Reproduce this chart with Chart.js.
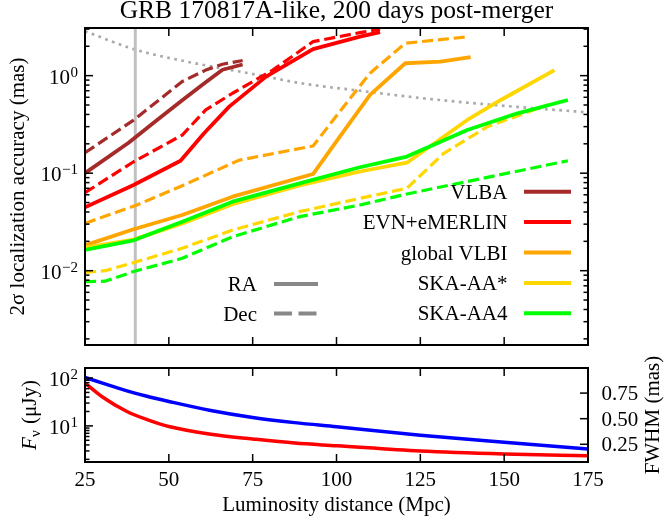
<!DOCTYPE html>
<html>
<head>
<meta charset="utf-8">
<script src="https://cdn.jsdelivr.net/npm/chart.js@4.4.1/dist/chart.umd.min.js"></script>
<style>
  html, body { margin: 0; padding: 0; background: #fff; }
  #wrap { position: relative; width: 665px; height: 525px; }
  #topChart { position: absolute; left: 0; top: 0; }
  #bottomChart { position: absolute; left: 0; top: 350px; }
</style>
</head>
<body>
<div id="wrap">
  <canvas id="topChart" width="665" height="350"></canvas>
  <canvas id="bottomChart" width="665" height="175"></canvas>
</div>
<script>
const SERIF = '"Liberation Serif", "Times New Roman", "DejaVu Serif", serif';

// shared x axis (luminosity distance, Mpc)
const distMin = 25, distMax = 175;
const distTicks = [25, 50, 75, 100, 125, 150, 175];

// top panel: 2 sigma localization accuracy (mas)
const accMin = 0.00173, accMax = 3.08;
const arrayNames = ['VLBA', 'EVN+eMERLIN', 'global VLBI', 'SKA-AA*', 'SKA-AA4'];
const arrayColors = ['#a52a2a', '#ff0000', '#ffa500', '#ffd700', '#00ff00'];

const vlbaRaDist = [25, 38, 46.5, 54, 60.5, 66, 72];
const vlbaRa = [0.100, 0.205, 0.35, 0.56, 0.83, 1.15, 1.30];
const vlbaDecDist = [25, 39.5, 54, 61, 66, 72];
const vlbaDec = [0.162, 0.35, 0.87, 1.14, 1.31, 1.43];

const evnRaDist = [25, 39.5, 53.5, 60.5, 68, 79, 93, 107, 113];
const evnRa = [0.0447, 0.0757, 0.134, 0.257, 0.481, 0.977, 1.87, 2.51, 2.79];
const evnDecDist = [25, 39.5, 54, 61, 69, 81, 93, 107, 113];
const evnDec = [0.063, 0.131, 0.246, 0.445, 0.66, 1.14, 2.23, 2.76, 2.99];

const globalRaDist = [25, 39.5, 54, 69, 93, 101, 110, 120.5, 131, 140];
const globalRa = [0.0182, 0.0266, 0.0372, 0.0574, 0.098, 0.237, 0.634, 1.34, 1.39, 1.55];
const globalDecDist = [25, 40.5, 54.5, 71, 93, 102, 110, 120.5, 139.5];
const globalDec = [0.0306, 0.0472, 0.0757, 0.136, 0.19, 0.474, 1.06, 2.15, 2.51];

const aaStarRaDist = [25, 39.5, 54, 69, 89, 107, 121, 139, 149, 165];
const aaStarRa = [0.0172, 0.0208, 0.0305, 0.048, 0.075, 0.104, 0.128, 0.351, 0.563, 1.14];
const aaStarDecDist = [25, 31, 39.5, 54, 69, 89, 107, 121, 132, 145, 163];
const aaStarDec = [0.0096, 0.0100, 0.0121, 0.017, 0.0261, 0.0403, 0.0552, 0.070, 0.160, 0.300, 0.50];

const aa4RaDist = [25, 39.5, 54, 69, 89, 107, 121, 139, 154, 169];
const aa4Ra = [0.0163, 0.0205, 0.0318, 0.051, 0.0787, 0.115, 0.148, 0.277, 0.411, 0.563];
const aa4DecDist = [25, 31, 39.5, 54, 69, 89, 107, 121, 169];
const aa4Dec = [0.0077, 0.0078, 0.0098, 0.0134, 0.0223, 0.0358, 0.0472, 0.0612, 0.134];

// grey dotted reference curve and vertical marker
const beamDist = [25, 40, 55, 75, 90, 107, 125, 150, 175];
const beamSize = [2.85, 1.85, 1.40, 1.04, 0.83, 0.70, 0.59, 0.49, 0.42];
const markDist = 40;

// bottom panel: flux density (left, log) and FWHM (right, linear)
const curveDist = [25, 30, 37.5, 43.75, 50, 62.5, 75, 87.5, 100, 125, 150, 175];
const fluxDensity = [103, 79, 54, 41, 32.4, 21, 15, 11.7, 9.6, 6.4, 4.55, 3.3];
const fwhm = [0.848, 0.717, 0.570, 0.488, 0.423, 0.348, 0.302, 0.262, 0.236, 0.184, 0.155, 0.138];
const fluxMin = 1.76, fluxMax = 162;
const fwhmMin = 0.077, fwhmMax = 0.995;
const fwhmTicks = [0.25, 0.50, 0.75];

const raDists = [vlbaRaDist, evnRaDist, globalRaDist, aaStarRaDist, aa4RaDist];
const raVals = [vlbaRa, evnRa, globalRa, aaStarRa, aa4Ra];
const decDists = [vlbaDecDist, evnDecDist, globalDecDist, aaStarDecDist, aa4DecDist];
const decVals = [vlbaDec, evnDec, globalDec, aaStarDec, aa4Dec];

const DASH = [11.1, 4.8];
const LEGEND_DASH = [18, 6.5];

function pts(xs, ys) {
  return xs.map((x, i) => ({ x: x, y: ys[i] }));
}

function seg(ctx, x1, y1, x2, y2) {
  ctx.beginPath();
  ctx.moveTo(x1, y1);
  ctx.lineTo(x2, y2);
  ctx.stroke();
}

function logTicks(min, max) {
  const out = [];
  for (let e = Math.floor(Math.log10(min)); e <= Math.ceil(Math.log10(max)); e++) {
    for (let m = 1; m <= 9; m++) {
      const v = m * Math.pow(10, e);
      if (v >= min && v <= max) out.push({ v: v, major: m === 1, exp: e });
    }
  }
  return out;
}

// "10" with a superscript exponent, right aligned at xRight
function drawPow(ctx, exp, xRight, yTick) {
  const sup = exp < 0 ? '\u2212' + (-exp) : String(exp);
  ctx.textAlign = 'right';
  ctx.textBaseline = 'alphabetic';
  ctx.font = '15px ' + SERIF;
  const w = ctx.measureText(sup).width;
  ctx.fillText(sup, xRight, yTick + 1);
  ctx.font = '21px ' + SERIF;
  ctx.fillText('10', xRight - w - 0.5, yTick + 8);
}

function drawFrameAndXTicks(chart) {
  const ctx = chart.ctx, a = chart.chartArea, xs = chart.scales.x;
  ctx.strokeStyle = '#000';
  ctx.lineWidth = 1.5;
  distTicks.forEach(v => {
    const px = xs.getPixelForValue(v);
    seg(ctx, px, a.bottom, px, a.bottom - 8);
    seg(ctx, px, a.top, px, a.top + 8);
  });
  ctx.lineWidth = 2;
  ctx.strokeRect(a.left, a.top, a.right - a.left, a.bottom - a.top);
}

const topDecor = {
  id: 'topDecor',
  afterDraw(chart) {
    const ctx = chart.ctx, a = chart.chartArea, ys = chart.scales.y;
    ctx.save();
    drawFrameAndXTicks(chart);

    ctx.lineWidth = 1.5;
    logTicks(accMin, accMax).forEach(t => {
      const py = ys.getPixelForValue(t.v);
      const len = t.major ? 8 : 4.5;
      seg(ctx, a.left, py, a.left + len, py);
      seg(ctx, a.right, py, a.right - len, py);
      if (t.major) drawPow(ctx, t.exp, a.left - 7, py);
    });

    ctx.fillStyle = '#000';
    ctx.font = '25.5px ' + SERIF;
    ctx.textAlign = 'center';
    ctx.textBaseline = 'alphabetic';
    ctx.fillText('GRB 170817A-like, 200 days post-merger', (a.left + a.right) / 2, 18);

    ctx.save();
    ctx.translate(24, (a.top + a.bottom) / 2);
    ctx.rotate(-Math.PI / 2);
    ctx.font = '21px ' + SERIF;
    ctx.fillText('2\u03c3 localization accuracy (mas)', 0, 0);
    ctx.restore();

    // array legend
    ctx.font = '21px ' + SERIF;
    ctx.textAlign = 'right';
    ctx.lineWidth = 4;
    ctx.lineCap = 'butt';
    arrayNames.forEach((name, i) => {
      const y = 191.7 + i * 30.4;
      ctx.fillStyle = '#000';
      ctx.fillText(name, 507.5, y + 7);
      ctx.strokeStyle = arrayColors[i];
      seg(ctx, 524, y, 571, y);
    });

    // RA / Dec legend
    ['RA', 'Dec'].forEach((name, i) => {
      const y = 284 + i * 29.5;
      ctx.fillStyle = '#000';
      ctx.fillText(name, 257, y + 7);
      ctx.strokeStyle = '#888888';
      ctx.setLineDash(i === 0 ? [] : LEGEND_DASH);
      seg(ctx, 274, y, 318, y);
    });
    ctx.setLineDash([]);
    ctx.restore();
  }
};

const bottomDecor = {
  id: 'bottomDecor',
  afterDraw(chart) {
    const ctx = chart.ctx, a = chart.chartArea, ys = chart.scales.y, y2 = chart.scales.y2, xs = chart.scales.x;
    ctx.save();
    drawFrameAndXTicks(chart);

    ctx.lineWidth = 1.5;
    logTicks(fluxMin, fluxMax).forEach(t => {
      const py = ys.getPixelForValue(t.v);
      seg(ctx, a.left, py, a.left + (t.major ? 8 : 4.5), py);
      if (t.major) drawPow(ctx, t.exp, a.left - 7, py);
    });

    ctx.fillStyle = '#000';
    ctx.font = '21px ' + SERIF;
    ctx.textBaseline = 'alphabetic';
    fwhmTicks.forEach(v => {
      const py = y2.getPixelForValue(v);
      seg(ctx, a.right, py, a.right - 8, py);
      ctx.textAlign = 'left';
      ctx.fillText(v.toFixed(2), a.right + 13.5, py + 7);
    });

    ctx.textAlign = 'center';
    distTicks.forEach(v => {
      ctx.fillText(String(v), xs.getPixelForValue(v), a.bottom + 23.7);
    });
    ctx.fillText('Luminosity distance (Mpc)', (a.left + a.right) / 2, 161);

    // left title: F_nu (uJy)
    ctx.save();
    ctx.translate(35.5, (a.top + a.bottom) / 2);
    ctx.rotate(-Math.PI / 2);
    ctx.textAlign = 'left';
    ctx.font = 'italic 21px ' + SERIF;
    const wF = ctx.measureText('F').width;
    ctx.font = '15px ' + SERIF;
    const wNu = ctx.measureText('\u03bd').width;
    ctx.font = '21px ' + SERIF;
    const wRest = ctx.measureText(' (\u03bcJy)').width;
    const x0 = -(wF + wNu + 1 + wRest) / 2;
    ctx.font = 'italic 21px ' + SERIF;
    ctx.fillText('F', x0, 0);
    ctx.font = '15px ' + SERIF;
    ctx.fillText('\u03bd', x0 + wF, 4);
    ctx.font = '21px ' + SERIF;
    ctx.fillText(' (\u03bcJy)', x0 + wF + wNu + 1, 0);
    ctx.restore();

    // right title
    ctx.save();
    ctx.translate(659, (a.top + a.bottom) / 2);
    ctx.rotate(-Math.PI / 2);
    ctx.textAlign = 'center';
    ctx.font = '21px ' + SERIF;
    ctx.fillText('FWHM (mas)', 0, 0);
    ctx.restore();

    ctx.restore();
  }
};

// top panel datasets
const topDatasets = [];
topDatasets.push({
  data: pts(beamDist, beamSize),
  borderColor: '#aaaaaa', borderWidth: 2.7, borderDash: [2.7, 4.5],
  cubicInterpolationMode: 'monotone'
});
topDatasets.push({
  data: pts([markDist, markDist], [accMin, accMax]),
  borderColor: '#c0c0c0', borderWidth: 3
});
arrayNames.forEach((name, i) => {
  topDatasets.push({
    label: name + ' Dec',
    data: pts(decDists[i], decVals[i]),
    borderColor: arrayColors[i], borderWidth: 3.2, borderDash: DASH
  });
  topDatasets.push({
    label: name + ' RA',
    data: pts(raDists[i], raVals[i]),
    borderColor: arrayColors[i], borderWidth: 3.8
  });
});
topDatasets.forEach((d, i) => { d.order = topDatasets.length - i; d.pointRadius = 0; });

new Chart(document.getElementById('topChart'), {
  type: 'line',
  data: { datasets: topDatasets },
  options: {
    responsive: false,
    animation: false,
    events: [],
    layout: { padding: { top: 28, right: 77, bottom: 0, left: 0 } },
    elements: { point: { radius: 0 }, line: { borderJoinStyle: 'round', tension: 0 } },
    plugins: { legend: { display: false }, tooltip: { enabled: false } },
    scales: {
      x: {
        type: 'linear', min: distMin, max: distMax,
        grid: { display: false }, border: { display: false }, ticks: { display: false },
        afterFit: s => { s.height = 5; }
      },
      y: {
        type: 'logarithmic', min: accMin, max: accMax,
        grid: { display: false }, border: { display: false }, ticks: { display: false },
        afterFit: s => { s.width = 85; }
      }
    }
  },
  plugins: [topDecor]
});

new Chart(document.getElementById('bottomChart'), {
  type: 'line',
  data: {
    datasets: [
      { label: 'Flux density', data: pts(curveDist, fluxDensity), yAxisID: 'y',
        borderColor: '#0000ff', borderWidth: 3.5, pointRadius: 0, cubicInterpolationMode: 'monotone' },
      { label: 'FWHM', data: pts(curveDist, fwhm), yAxisID: 'y2',
        borderColor: '#ff0000', borderWidth: 3.5, pointRadius: 0, cubicInterpolationMode: 'monotone' }
    ]
  },
  options: {
    responsive: false,
    animation: false,
    events: [],
    layout: { padding: { top: 18, right: 0, bottom: 0, left: 0 } },
    plugins: { legend: { display: false }, tooltip: { enabled: false } },
    scales: {
      x: {
        type: 'linear', min: distMin, max: distMax,
        grid: { display: false }, border: { display: false }, ticks: { display: false },
        afterFit: s => { s.height = 63; }
      },
      y: {
        type: 'logarithmic', position: 'left', min: fluxMin, max: fluxMax,
        grid: { display: false }, border: { display: false }, ticks: { display: false },
        afterFit: s => { s.width = 85; }
      },
      y2: {
        type: 'linear', position: 'right', min: fwhmMin, max: fwhmMax,
        grid: { display: false }, border: { display: false }, ticks: { display: false },
        afterFit: s => { s.width = 77; }
      }
    }
  },
  plugins: [bottomDecor]
});
</script>
</body>
</html>
